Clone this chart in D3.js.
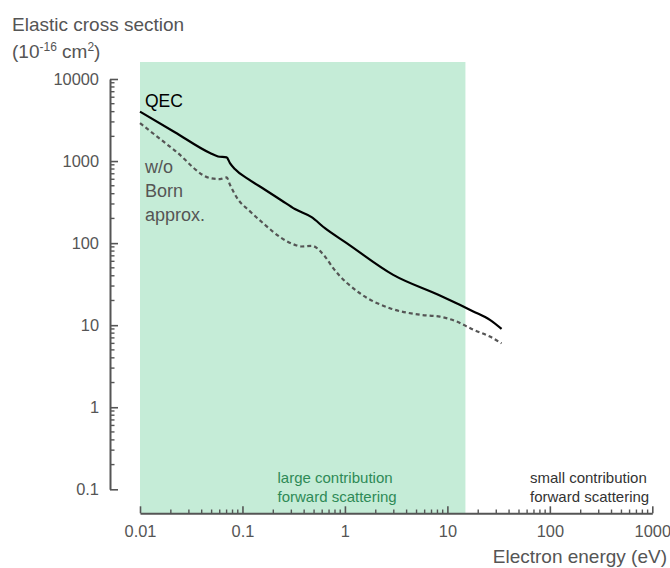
<!DOCTYPE html>
<html>
<head>
<meta charset="utf-8">
<script src="https://cdn.jsdelivr.net/npm/d3@7"></script>
<style>
  body { margin: 0; background: #fff; }
  text { font-family: "Liberation Sans", Arial, sans-serif; }
</style>
</head>
<body>
<div id="chart"></div>
<script>
// energies (eV) and cross sections (1e-16 cm2)
var qecEnergy = [0.01, 0.0219, 0.0482, 0.0577, 0.0701, 0.0755, 0.0843, 0.114, 0.166, 0.241, 0.325, 0.473, 0.638, 1.04, 2.96, 8.45, 13.2, 17.9, 26.0, 33.8];
var qecValue  = [4000, 2244, 1253, 1138, 1107, 946, 798, 603, 447, 331, 260, 207, 152, 100, 41, 23.0, 17.7, 14.7, 11.6, 9.0];

var bornEnergy = [0.01, 0.0219, 0.0482, 0.0603, 0.0701, 0.0755, 0.091, 0.114, 0.166, 0.241, 0.325, 0.378, 0.473, 0.638, 0.769, 1.40, 2.75, 5.40, 8.45, 12.3, 17.9, 26.0, 33.8];
var bornValue  = [2900, 1343, 621, 603, 631, 514, 338, 255, 167, 115, 95.3, 91, 92.7, 68.7, 49.5, 24.5, 16.1, 13.4, 12.7, 11.1, 8.8, 7.26, 6.0];

var xTicks = [0.01, 0.1, 1, 10, 100, 1000];
var xTickLabels = ["0.01", "0.1", "1", "10", "100", "1000"];
var yTicks = [0.1, 1, 10, 100, 1000, 10000];
var yTickLabels = ["0.1", "1", "10", "100", "1000", "10000"];
var regionEnergy = [0.01, 15];

var width = 670, height = 568;

var svg = d3.select("#chart").append("svg")
  .attr("width", width)
  .attr("height", height);

var x = d3.scaleLog().domain([0.01, 1000]).range([140, 652.3]);
var y = d3.scaleLog().domain([0.1, 10000]).range([489.3, 79]);

// shaded region
svg.append("rect")
  .attr("x", x(regionEnergy[0]))
  .attr("y", 62)
  .attr("width", x(regionEnergy[1]) - x(regionEnergy[0]))
  .attr("height", 513.3 - 62)
  .attr("fill", "#c5ecd7");

// minor ticks
function minors(lo, hi) {
  var out = [];
  for (var e = Math.log10(lo); e < Math.log10(hi); e++) {
    for (var k = 2; k <= 9; k++) out.push(k * Math.pow(10, e));
  }
  return out;
}

var axisColor = "#555";

// y axis
var yAxis = svg.append("g")
  .attr("transform", "translate(110,0)")
  .call(d3.axisLeft(y).tickValues(yTicks)
    .tickFormat(function(d, i) { return yTickLabels[i]; })
    .tickSizeInner(-8).tickSizeOuter(0).tickPadding(11));
yAxis.select(".domain").attr("stroke", axisColor).attr("stroke-width", 2);
yAxis.selectAll(".tick line").attr("stroke", axisColor).attr("stroke-width", 1.6);
yAxis.selectAll("text").attr("fill", axisColor).style("font-size", "16.4px")
  .style("font-family", "'Liberation Sans', Arial, sans-serif");

svg.append("g").selectAll("line")
  .data(minors(0.1, 10000))
  .enter().append("line")
    .attr("x1", 110).attr("x2", 114.5)
    .attr("y1", function(d) { return y(d); })
    .attr("y2", function(d) { return y(d); })
    .attr("stroke", axisColor).attr("stroke-width", 1.4);

// x axis
var xAxis = svg.append("g")
  .attr("transform", "translate(0,513.3)")
  .call(d3.axisBottom(x).tickValues(xTicks)
    .tickFormat(function(d, i) { return xTickLabels[i]; })
    .tickSizeInner(-7).tickSizeOuter(0).tickPadding(12));
xAxis.select(".domain").attr("stroke", axisColor).attr("stroke-width", 2);
xAxis.selectAll(".tick line").attr("stroke", axisColor).attr("stroke-width", 1.6);
xAxis.selectAll("text").attr("fill", axisColor).style("font-size", "16.4px")
  .style("font-family", "'Liberation Sans', Arial, sans-serif");

svg.append("g").selectAll("line")
  .data(minors(0.01, 1000))
  .enter().append("line")
    .attr("y1", 513.3).attr("y2", 509.5)
    .attr("x1", function(d) { return x(d); })
    .attr("x2", function(d) { return x(d); })
    .attr("stroke", axisColor).attr("stroke-width", 1.4);

// curves
var line = d3.line()
  .x(function(d) { return x(d[0]); })
  .y(function(d) { return y(d[1]); })
  .curve(d3.curveMonotoneX);

svg.append("path")
  .datum(d3.zip(bornEnergy, bornValue))
  .attr("d", line)
  .attr("fill", "none")
  .attr("stroke", "#555")
  .attr("stroke-width", 2.2)
  .attr("stroke-dasharray", "4,3");

svg.append("path")
  .datum(d3.zip(qecEnergy, qecValue))
  .attr("d", line)
  .attr("fill", "none")
  .attr("stroke", "#000")
  .attr("stroke-width", 2.2);

// titles
svg.append("text").attr("x", 12).attr("y", 31)
  .attr("fill", "#555").style("font-size", "19px")
  .text("Elastic cross section");

var unit = svg.append("text").attr("x", 12).attr("y", 58)
  .attr("fill", "#555").style("font-size", "19px");
unit.append("tspan").text("(10");
unit.append("tspan").attr("dy", -7).style("font-size", "12px").text("-16");
unit.append("tspan").attr("dy", 7).text(" cm");
unit.append("tspan").attr("dy", -7).style("font-size", "12px").text("2");
unit.append("tspan").attr("dy", 7).text(")");

svg.append("text").attr("x", 667).attr("y", 563)
  .attr("text-anchor", "end")
  .attr("fill", "#555").style("font-size", "19px")
  .text("Electron energy (eV)");

// curve labels
svg.append("text").attr("x", 145).attr("y", 106.5)
  .attr("fill", "#000").style("font-size", "17.5px")
  .text("QEC");

["w/o", "Born", "approx."].forEach(function(t, i) {
  svg.append("text").attr("x", 145).attr("y", 172.7 + i * 24)
    .attr("fill", "#555").style("font-size", "18px")
    .text(t);
});

// region labels
["large contribution", "forward scattering"].forEach(function(t, i) {
  svg.append("text").attr("x", 277.5).attr("y", 482.5 + i * 19)
    .attr("fill", "#2e8a56").style("font-size", "15px")
    .text(t);
});
["small contribution", "forward scattering"].forEach(function(t, i) {
  svg.append("text").attr("x", 530).attr("y", 482.5 + i * 19)
    .attr("fill", "#333").style("font-size", "15px")
    .text(t);
});
</script>
</body>
</html>
